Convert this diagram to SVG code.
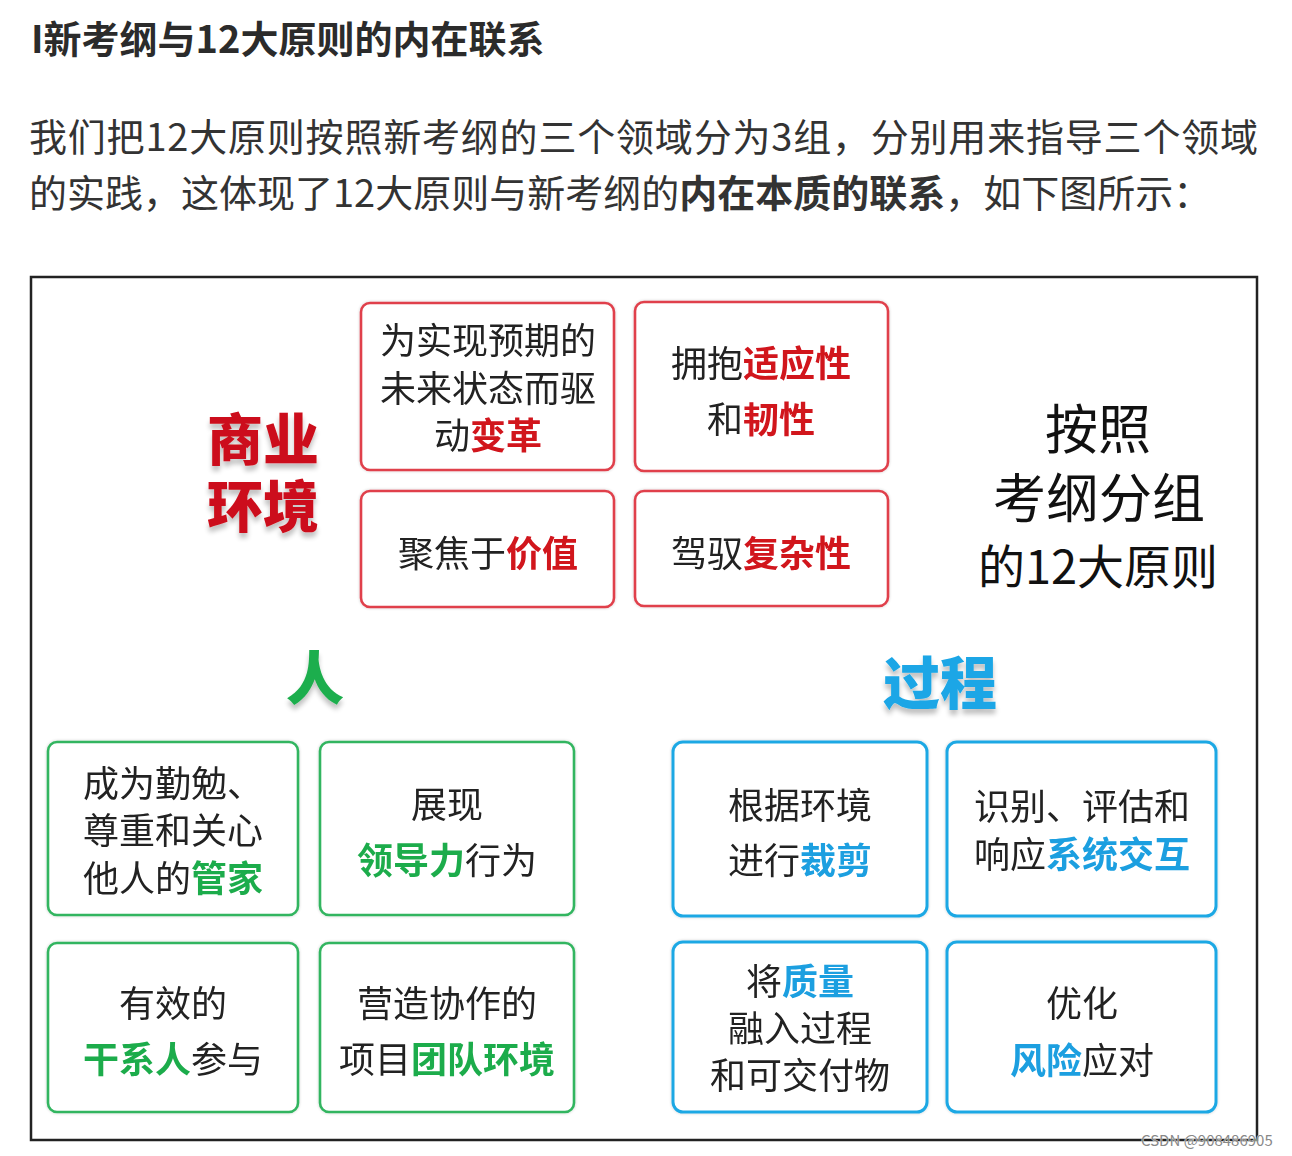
<svg xmlns="http://www.w3.org/2000/svg" width="1292" height="1156" viewBox="0 0 1292 1156">
<defs>
<style>
text{font-family:"Noto Sans CJK SC","Noto Sans",sans-serif;}
.title{font-size:38px;font-weight:700;fill:#2b2b2b;}
.para{font-size:38px;fill:#333;}
.b{font-weight:700;}
.box{fill:#fff;stroke-width:2.6;}
.rbox{stroke:#e0404c;}
.gbox{stroke:#33b560;}
.bbox{stroke:#1ea8e4;stroke-width:3;}
.t{font-size:36px;fill:#222;text-anchor:middle;}
.r{fill:#d1121c;font-weight:700;}
.g{fill:#1fac4c;font-weight:700;}
.bl{fill:#1b9fe0;font-weight:700;}
.head{font-weight:900;text-anchor:middle;}
.big{font-size:53px;fill:#111;text-anchor:middle;}
.big2{font-size:47px;fill:#111;text-anchor:middle;}
</style>
<filter id="sh" x="-20%" y="-20%" width="140%" height="160%">
<feGaussianBlur in="SourceAlpha" stdDeviation="2.5"/>
<feOffset dx="0" dy="5" result="o"/>
<feComponentTransfer><feFuncA type="linear" slope="0.25"/></feComponentTransfer>
<feMerge><feMergeNode/><feMergeNode in="SourceGraphic"/></feMerge>
</filter>
<filter id="glow" x="-5%" y="-5%" width="110%" height="110%">
<feGaussianBlur in="SourceAlpha" stdDeviation="1.5"/>
<feComponentTransfer><feFuncA type="linear" slope="0.2"/></feComponentTransfer>
<feMerge><feMergeNode/><feMergeNode in="SourceGraphic"/></feMerge>
</filter>
</defs>
<rect width="1292" height="1156" fill="#fff"/>

<g id="heading">
<text class="title" x="31" y="53">I新考纲与12大原则的内在联系</text>
</g>
<g id="paragraph">
<text class="para" x="29" y="151" textLength="1229" lengthAdjust="spacing">我们把12大原则按照新考纲的三个领域分为3组，分别用来指导三个领域</text>
<text class="para" x="29" y="207">的实践，这体现了12大原则与新考纲的<tspan class="b">内在本质的联系</tspan>，如下图所示：</text>
</g>

<g id="frame">
<rect x="31" y="277" width="1226" height="863" fill="#fff" stroke="#222" stroke-width="2.5"/>
</g>

<g id="label-business">
<text class="head" x="263" y="460" font-size="56" fill="#cc111b" filter="url(#sh)">商业</text>
<text class="head" x="263" y="527" font-size="56" fill="#cc111b" filter="url(#sh)">环境</text>
</g>
<g id="label-people">
<text class="head" x="315" y="700" font-size="58" fill="#1fae4e" filter="url(#sh)">人</text>
</g>
<g id="label-process">
<text class="head" x="940" y="704" font-size="57" fill="#1aa6e6" filter="url(#sh)">过程</text>
</g>
<g id="label-group">
<text class="big" x="1098" y="449">按照</text>
<text class="big" x="1099" y="518">考纲分组</text>
<text class="big2" x="1098" y="584">的12大原则</text>
</g>

<g id="r1" filter="url(#glow)">
<rect class="box rbox" x="361" y="303" width="253" height="167" rx="9"/>
<text class="t" x="488" y="354">为实现预期的</text>
<text class="t" x="488" y="402">未来状态而驱</text>
<text class="t" x="488" y="449">动<tspan class="r">变革</tspan></text>
</g>
<g id="r2" filter="url(#glow)">
<rect class="box rbox" x="635" y="302" width="253" height="169" rx="9"/>
<text class="t" x="761" y="377">拥抱<tspan class="r">适应性</tspan></text>
<text class="t" x="761" y="433">和<tspan class="r">韧性</tspan></text>
</g>
<g id="r3" filter="url(#glow)">
<rect class="box rbox" x="361" y="491" width="253" height="116" rx="9"/>
<text class="t" x="488" y="567">聚焦于<tspan class="r">价值</tspan></text>
</g>
<g id="r4" filter="url(#glow)">
<rect class="box rbox" x="635" y="491" width="253" height="115" rx="9"/>
<text class="t" x="761" y="567">驾驭<tspan class="r">复杂性</tspan></text>
</g>

<g id="p1" filter="url(#glow)">
<rect class="box gbox" x="48" y="742" width="250" height="173" rx="9"/>
<text class="t" x="173" y="797">成为勤勉、</text>
<text class="t" x="173" y="844">尊重和关心</text>
<text class="t" x="173" y="892">他人的<tspan class="g">管家</tspan></text>
</g>
<g id="p2" filter="url(#glow)">
<rect class="box gbox" x="320" y="742" width="254" height="173" rx="9"/>
<text class="t" x="447" y="818">展现</text>
<text class="t" x="447" y="874"><tspan class="g">领导力</tspan>行为</text>
</g>
<g id="p3" filter="url(#glow)">
<rect class="box gbox" x="48" y="943" width="250" height="169" rx="9"/>
<text class="t" x="173" y="1017">有效的</text>
<text class="t" x="173" y="1073"><tspan class="g">干系人</tspan>参与</text>
</g>
<g id="p4" filter="url(#glow)">
<rect class="box gbox" x="320" y="943" width="254" height="169" rx="9"/>
<text class="t" x="447" y="1017">营造协作的</text>
<text class="t" x="447" y="1073">项目<tspan class="g">团队环境</tspan></text>
</g>

<g id="c1" filter="url(#glow)">
<rect class="box bbox" x="673" y="742" width="254" height="174" rx="10"/>
<text class="t" x="800" y="819">根据环境</text>
<text class="t" x="800" y="874">进行<tspan class="bl">裁剪</tspan></text>
</g>
<g id="c2" filter="url(#glow)">
<rect class="box bbox" x="947" y="742" width="269" height="174" rx="10"/>
<text class="t" x="1082" y="820">识别、评估和</text>
<text class="t" x="1082" y="868">响应<tspan class="bl">系统交互</tspan></text>
</g>
<g id="c3" filter="url(#glow)">
<rect class="box bbox" x="673" y="942" width="254" height="170" rx="10"/>
<text class="t" x="800" y="995">将<tspan class="bl">质量</tspan></text>
<text class="t" x="800" y="1042">融入过程</text>
<text class="t" x="800" y="1089">和可交付物</text>
</g>
<g id="c4" filter="url(#glow)">
<rect class="box bbox" x="947" y="942" width="269" height="170" rx="10"/>
<text class="t" x="1082" y="1017">优化</text>
<text class="t" x="1082" y="1074"><tspan class="bl">风险</tspan>应对</text>
</g>

<g id="watermark">
<text x="1141" y="1146" font-family="Liberation Sans, sans-serif" font-size="15" fill="#888" stroke="#fff" stroke-width="0.6" paint-order="stroke">CSDN @908486905</text>
</g>
</svg>
